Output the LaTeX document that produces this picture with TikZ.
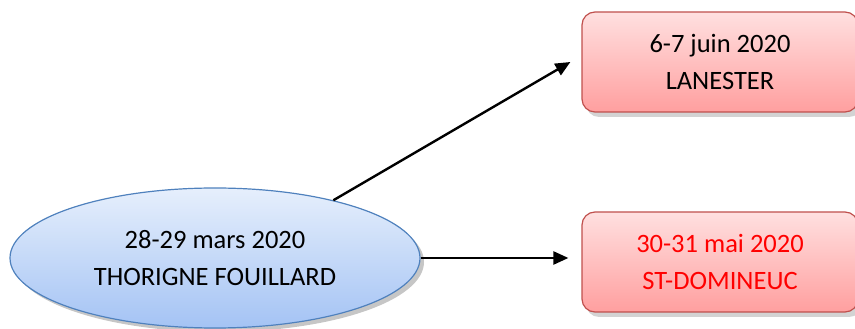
\documentclass[tikz,border=0pt]{standalone}
\usepackage{fontspec}
\setmainfont{Carlito}
\usetikzlibrary{arrows.meta,shapes.geometric,shadows}

\definecolor{boxline}{HTML}{C0504D}
\definecolor{boxtop}{HTML}{FFE0E0}
\definecolor{boxbottom}{HTML}{FF9F9F}
\definecolor{elline}{HTML}{4F81BD}
\definecolor{eltop}{HTML}{E6EFFC}
\definecolor{elbottom}{HTML}{A4C3F4}

\tikzset{
    datebox/.style = {draw = boxline, line width = 1.2pt, rounded corners = 13pt,
        top color = boxtop, bottom color = boxbottom,
        minimum width = 276pt, minimum height = 100pt, align = center,
        drop shadow = {shadow xshift = 4pt, shadow yshift = -5pt, opacity = 0.35}},
    startel/.style = {ellipse, draw = elline, line width = 1.2pt,
        top color = eltop, bottom color = elbottom,
        minimum width = 410pt, minimum height = 140pt, align = center,
        drop shadow = {shadow xshift = 4pt, shadow yshift = -4pt, opacity = 0.45}},
    link/.style = {line width = 2.4pt, -{Triangle[length = 15pt, width = 13pt]}}
}

\begin{document}
\begin{tikzpicture}[x = 1pt, y = 1pt, font = \fontsize{26.5}{36.5}\selectfont]
        \useasboundingbox (0,0) rectangle (855,329);

        \node[startel] (thorigne) at (215,71)
            {28-29 mars 2020\\THORIGNE FOUILLARD};

        \node[datebox] (lanester) at (720,267)
            {6-7 juin 2020\\LANESTER};

        \node[datebox, text = red] (domineuc) at (720,67)
            {30-31 mai 2020\\ST-DOMINEUC};

        % arrows
        \draw[link] (thorigne.26) -- ([xshift = -11pt]lanester.west);
        \draw[link] (thorigne.east) -- ([xshift = -13pt]thorigne.east -| domineuc.west);
    \end{tikzpicture}
\end{document}
